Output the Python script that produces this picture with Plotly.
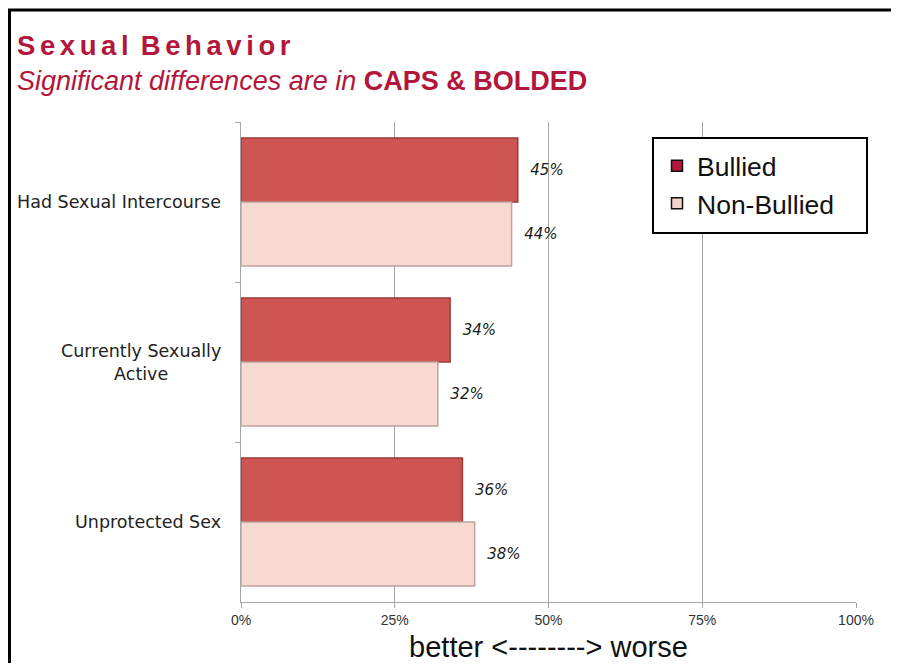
import plotly.graph_objects as go

categories = ["Had Sexual Intercourse", "Currently Sexually<br>Active", "Unprotected Sex"]
bullied = [45, 34, 36]
non_bullied = [44, 32, 38]
series_names = ["Bullied", "Non-Bullied"]
x_ticks = [0, 25, 50, 75, 100]
x_ticklabels = ["0%", "25%", "50%", "75%", "100%"]

# page body has an 8px margin; figure sized to fit the window
OFF = 8
W, H = 883, 655
ML, MT = 241 - OFF, 122 - OFF
MR = W - (856 - OFF)
MB = H - (602 - OFF)
PW, PH = W - ML - MR, H - MT - MB

def px_x(p):  # screen px -> paper
    return (p - OFF - ML) / PW

def px_y(p):
    return 1 - (p - OFF - MT) / PH

CRIMSON = "#B3163B"
BAR1, BAR1_LINE = "#CD5653", "#9A3A38"
BAR2, BAR2_LINE = "#F8D9CF", "#BFA29C"
LABEL_FONT = dict(family="DejaVu Sans", size=15, color="#1A1A1A", style="italic")

fig = go.Figure()
fig.add_trace(go.Bar(
    y=categories, x=bullied, orientation="h", name=series_names[0],
    marker=dict(color=BAR1, line=dict(color=BAR1_LINE, width=1.5)),
    text=[f"{v}%" for v in bullied], texttemplate="  %{text}",
    textposition="outside", cliponaxis=False, textfont=LABEL_FONT,
    showlegend=False, hoverinfo="skip"))
fig.add_trace(go.Bar(
    y=categories, x=non_bullied, orientation="h", name=series_names[1],
    marker=dict(color=BAR2, line=dict(color=BAR2_LINE, width=1.5)),
    text=[f"{v}%" for v in non_bullied], texttemplate="  %{text}",
    textposition="outside", cliponaxis=False, textfont=LABEL_FONT,
    showlegend=False, hoverinfo="skip"))

# legend entries
for name, col in zip(series_names, [CRIMSON, "#F3D3CB"]):
    fig.add_trace(go.Scatter(
        x=[None], y=[None], mode="markers", name=name,
        marker=dict(symbol="square", size=11, color=col, line=dict(color="#111111", width=1.5))))

annotations = []
for c in categories:
    annotations.append(dict(
        x=px_x(223), xref="paper", y=c, yref="y", text=c, showarrow=False,
        xanchor="right", yanchor="middle", align="center",
        font=dict(family="DejaVu Sans", size=17.5, color="#222222")))

title_txt = "\u2006".join("Sexual") + " \u2006" + "\u2006".join("Behavior")
annotations.append(dict(
    x=px_x(15), xref="paper", y=px_y(63), yref="paper", xanchor="left", yanchor="bottom",
    text=f"<b>{title_txt}</b>",
    showarrow=False, font=dict(family="Liberation Sans", size=27.5, color=CRIMSON)))
annotations.append(dict(
    x=px_x(15), xref="paper", y=px_y(98), yref="paper", xanchor="left", yanchor="bottom",
    text="<i>Significant differences are in</i> <b>CAPS &amp; BOLDED</b>",
    showarrow=False, font=dict(family="Liberation Sans", size=27, color=CRIMSON)))

shapes = [
    dict(type="rect", xref="paper", yref="paper",
         x0=px_x(OFF + 1.5), x1=px_x(960), y0=px_y(760), y1=px_y(10),
         line=dict(color="#000000", width=3), fillcolor="rgba(0,0,0,0)", layer="above"),
    dict(type="rect", xref="paper", yref="paper",
         x0=px_x(653), x1=px_x(867), y0=px_y(233), y1=px_y(138),
         line=dict(color="#000000", width=2), fillcolor="#FFFFFF", layer="above"),
]

fig.update_layout(
    width=W, height=H,
    margin=dict(l=ML, r=MR, t=MT, b=MB, pad=0, autoexpand=False),
    paper_bgcolor="#FFFFFF", plot_bgcolor="#FFFFFF",
    barmode="group", bargap=0.2, bargroupgap=0,
    font=dict(family="Liberation Sans", color="#222222"),
    showlegend=True,
    legend=dict(x=px_x(657), y=px_y(142), xanchor="left", yanchor="top",
                bgcolor="rgba(0,0,0,0)", borderwidth=0,
                font=dict(family="Liberation Sans", size=26.5, color="#111111"),
                itemwidth=30, tracegroupgap=0),
    xaxis=dict(range=[0, 100], tickvals=x_ticks, ticktext=x_ticklabels,
               showgrid=True, gridcolor="#A6A6A6", gridwidth=1,
               showline=True, linecolor="#A6A6A6", linewidth=1,
               ticks="outside", ticklen=5, tickcolor="#A6A6A6",
               tickfont=dict(family="Liberation Sans", size=14, color="#333333"),
               zeroline=False, fixedrange=True, automargin=False,
               title=dict(text="better &lt;--------&gt; worse", standoff=18,
                          font=dict(family="Liberation Sans", size=29, color="#111111"))),
    yaxis=dict(autorange="reversed", showticklabels=False,
               showline=True, linecolor="#A6A6A6", linewidth=1,
               ticks="outside", ticklen=5, tickcolor="#A6A6A6", tickson="boundaries",
               showgrid=False, fixedrange=True, automargin=False),
    annotations=annotations, shapes=shapes,
)

fig.write_html("out.html")
